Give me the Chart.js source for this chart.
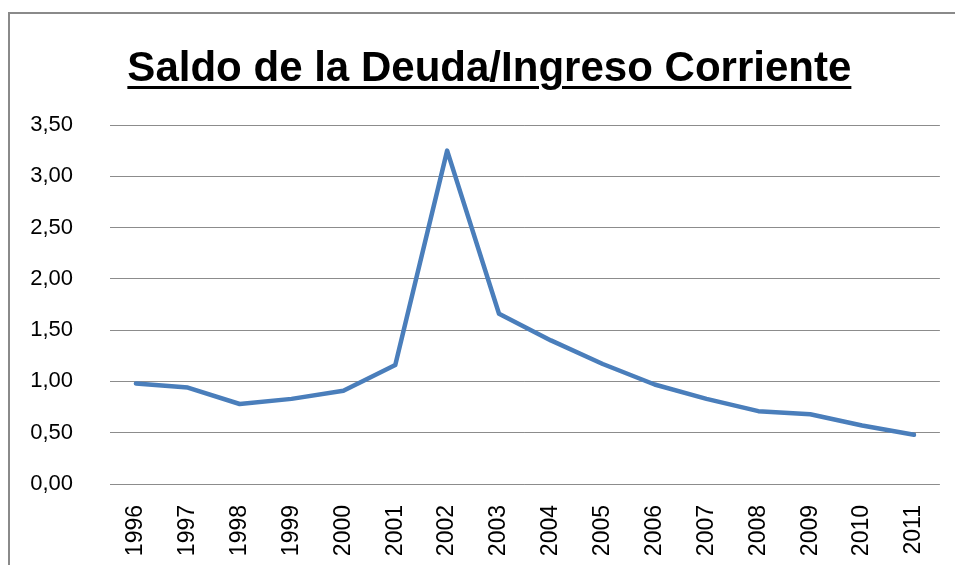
<!DOCTYPE html>
<html>
<head>
<meta charset="utf-8">
<script src="https://cdn.jsdelivr.net/npm/chart.js@4"></script>
<style>
  html, body { margin: 0; padding: 0; background: #fff; overflow: hidden; }
  #wrap { position: relative; width: 955px; height: 565px; overflow: hidden; }
  #frame { position: absolute; left: 8px; top: 12px; width: 1000px; height: 1000px;
           border: 2px solid #8a8a8a; box-sizing: border-box; }
  #title { position: absolute; left: 0; top: 42px; width: 978px; text-align: center;
           font-family: "Liberation Sans", Arial, sans-serif; font-weight: bold;
           font-size: 43px; color: #000; white-space: nowrap; }
  #title span { display: inline-block; text-decoration: underline; text-decoration-thickness: 3px;
                text-underline-offset: 5px; transform-origin: center; }
  canvas { position: absolute; left: 0; top: 0; }
</style>
</head>
<body>
<div id="wrap">
  <div id="frame"></div>
  <canvas id="chart" width="955" height="565"></canvas>
  <div id="title"><span id="titleText">Saldo de la Deuda/Ingreso Corriente</span></div>
</div>
<script>
// Datos del gráfico
const years = ['1996', '1997', '1998', '1999', '2000', '2001', '2002', '2003',
               '2004', '2005', '2006', '2007', '2008', '2009', '2010', '2011'];
const ratio = [0.98, 0.94, 0.78, 0.83, 0.91, 1.16, 3.25, 1.66,
               1.40, 1.17, 0.97, 0.83, 0.71, 0.68, 0.57, 0.48];
const yTicks = [0, 0.5, 1, 1.5, 2, 2.5, 3, 3.5];

// ajustar ancho del título
const span = document.getElementById('titleText');
const w = span.getBoundingClientRect().width;
span.style.transform = 'scaleX(' + (724 / w) + ')';

const ctx = document.getElementById('chart').getContext('2d');
new Chart(ctx, {
  type: 'line',
  data: {
    labels: years,
    datasets: [{
      data: ratio,
      borderColor: '#4a7ebb',
      borderWidth: 4.5,
      pointRadius: 0,
      tension: 0,
      borderCapStyle: 'round',
      borderJoinStyle: 'round'
    }]
  },
  options: {
    responsive: false,
    animation: false,
    layout: { padding: { top: 125, right: 14, bottom: 0, left: 0 } },
    plugins: { legend: { display: false }, tooltip: { enabled: false } },
    scales: {
      x: {
        offset: true,
        grid: { display: false },
        border: { display: false },
        ticks: {
          minRotation: 90, maxRotation: 90, padding: 13,
          color: '#000',
          font: { family: '"Liberation Sans", Arial, sans-serif', size: 23 }
        },
        afterFit: s => { s.height = 81; }
      },
      y: {
        min: 0, max: 3.5,
        afterBuildTicks: s => { s.ticks = yTicks.map(v => ({ value: v })); },
        grid: { color: '#8c8c8c', lineWidth: 1, drawTicks: false },
        border: { display: false },
        ticks: {
          padding: 37,
          color: '#000',
          font: { family: '"Liberation Sans", Arial, sans-serif', size: 22 },
          callback: v => v.toFixed(2).replace('.', ',')
        },
        afterFit: s => { s.width = 110; }
      }
    }
  }
});
</script>
</body>
</html>
